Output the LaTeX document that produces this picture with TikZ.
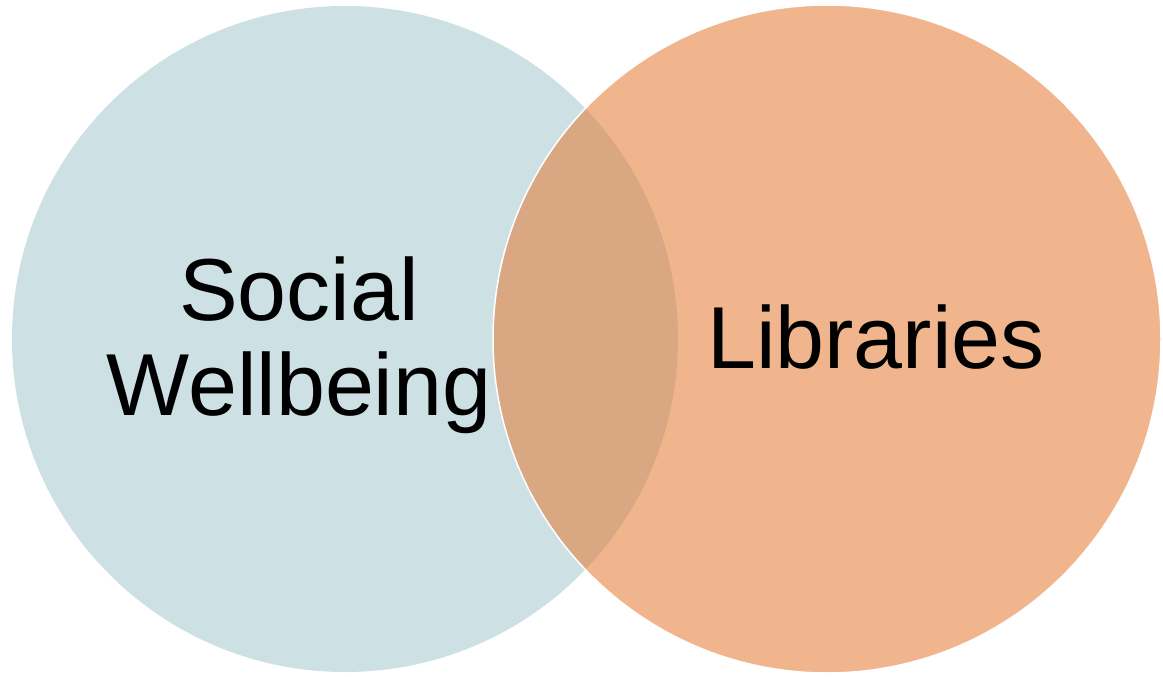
\documentclass[tikz,border=0pt]{standalone}
\usepackage{fontspec}
\setmainfont{Liberation Sans}
\definecolor{leftfill}{HTML}{CDE0E3}
\definecolor{rightfill}{HTML}{F0B58D}
\definecolor{overlapfill}{HTML}{D9A781}
\tikzset{
  label text/.style={font=\fontsize{88}{95}\selectfont, text=black, align=center, inner sep=0pt},
}
\begin{document}
\begin{tikzpicture}[x=1pt,y=-1pt]
\useasboundingbox (0,0) rectangle (1163,677);
\coordinate (lc) at (345,339);
\coordinate (rc) at (827,339);
\fill[leftfill] (lc) circle (333pt);
\fill[rightfill] (rc) circle (334pt);
\begin{scope}
  \clip (lc) circle (333pt);
  \fill[overlapfill] (rc) circle (334pt);
\end{scope}
\draw[white, line width=1.5pt] (rc) circle (334pt);
\node[label text, anchor=base] (social) at (299,415) {Social\\Wellbeing};
\node[label text, anchor=base] (libraries) at (876,368) {Libraries};
\end{tikzpicture}
\end{document}
